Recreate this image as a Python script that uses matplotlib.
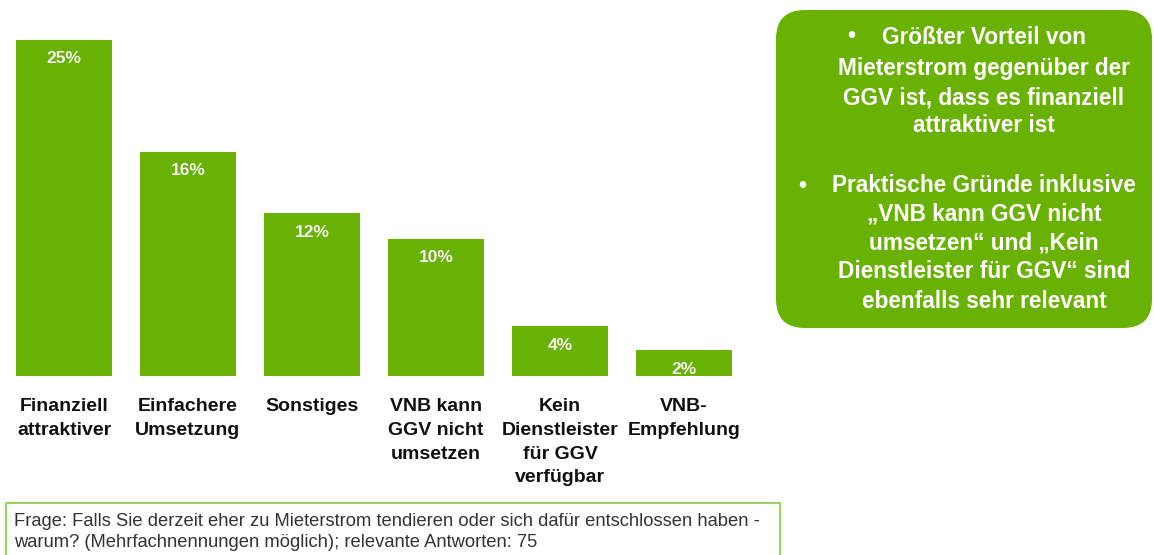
import matplotlib
matplotlib.use("Agg")
import matplotlib.pyplot as plt
from matplotlib.patches import FancyBboxPatch, Rectangle

categories = ["Finanziell\nattraktiver", "Einfachere\nUmsetzung", "Sonstiges",
              "VNB kann\nGGV nicht\numsetzen", "Kein\nDienstleister\nfür GGV\nverfügbar",
              "VNB-\nEmpfehlung"]
values = [25.0, 16.7, 12.1, 10.2, 3.7, 1.9]
value_labels = ["25%", "16%", "12%", "10%", "4%", "2%"]

box_par1 = ["Größter Vorteil von", "Mieterstrom gegenüber der",
            "GGV ist, dass es finanziell", "attraktiver ist"]
box_par2 = ["Praktische Gründe inklusive", "„VNB kann GGV nicht",
            "umsetzen“ und „Kein", "Dienstleister für GGV“ sind",
            "ebenfalls sehr relevant"]
footnote = ("Frage: Falls Sie derzeit eher zu Mieterstrom tendieren oder sich dafür entschlossen haben -\n"
            "warum? (Mehrfachnennungen möglich); relevante Antworten: 75")

W, H = 1154, 555
GREEN = "#69b102"
fig = plt.figure(figsize=(W / 100, H / 100), dpi=100)

def fx(px):
    return px / W

def fy(py):
    return 1 - py / H

px_per_unit = 13.44
ymax = 28.0
ax_left, ax_right = 2, 746
ax_bottom = 376
ax_top = ax_bottom - ymax * px_per_unit
ax = fig.add_axes([fx(ax_left), fy(ax_bottom), fx(ax_right - ax_left), (ax_bottom - ax_top) / H])
x = list(range(len(categories)))
ax.bar(x, values, width=96 / 124, color=GREEN, edgecolor="none")
ax.set_xlim(-0.5, len(categories) - 0.5)
ax.set_ylim(0, ymax)
ax.axis("off")

for xi, v, lab in zip(x, values, value_labels):
    ax.annotate(lab, (xi, v), xytext=(0, -19), textcoords="offset pixels",
                ha="center", va="center", color="#f2f2f2", fontsize=12.5,
                fontweight="bold", family=["Liberation Sans", "DejaVu Sans"])

for xi, cat in zip(x, categories):
    ax.annotate(cat, (xi, 0), xytext=(0, -(398 - 376)), textcoords="offset pixels",
                ha="center", va="top", color="#111111", fontsize=14,
                fontweight="bold", linespacing=1.52,
                family=["Liberation Sans", "DejaVu Sans"])

box = FancyBboxPatch((fx(776), fy(328)), fx(1152 - 776), (328 - 10) / H,
                     boxstyle="round,pad=0,rounding_size=0.025",
                     transform=fig.transFigure, facecolor=GREEN, edgecolor="none",
                     mutation_aspect=W / H)
fig.patches.append(box)

tc = 984
fprops = dict(color="white", fontsize=16.3, fontweight="bold", ha="center", va="center",
              family=["Liberation Sans", "DejaVu Sans"])
y1 = [37, 68, 98, 126]
fig.text(fx(851), fy(y1[0]), "•", **fprops)
for yy, line in zip(y1, box_par1):
    fig.text(fx(tc), fy(yy), line, **fprops)
y2 = [186, 214, 243, 272, 301]
fig.text(fx(802), fy(y2[0]), "•", **fprops)
for yy, line in zip(y2, box_par2):
    fig.text(fx(tc), fy(yy), line, **fprops)

fig.patches.append(Rectangle((fx(6), fy(565)), fx(780 - 6), (565 - 503) / H,
                             transform=fig.transFigure, facecolor="white",
                             edgecolor="#8fd14f", linewidth=1.3))
fig.text(fx(14), fy(513), footnote, ha="left", va="top", color="#333333",
         fontsize=13.2, linespacing=1.32,
         family=["Liberation Sans", "DejaVu Sans"])

fig.savefig("out.png", dpi=100)
